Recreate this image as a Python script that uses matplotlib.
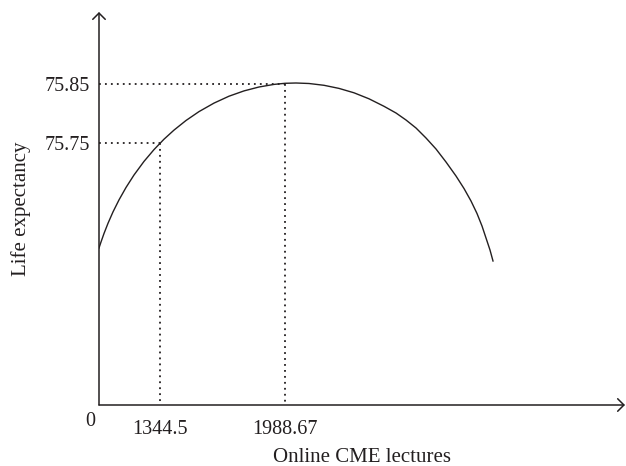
import matplotlib
matplotlib.use("Agg")
import matplotlib.pyplot as plt

# schematic curve (x, y in axis units, origin at the axes corner)
curve_x = [0, 2, 5, 9, 14, 20, 27, 35, 45, 55, 65, 75, 87, 100, 115, 130, 145, 160,
           175, 186, 197, 210, 225, 240, 255, 270, 285, 297, 307, 317, 327, 337,
           347, 357, 365, 372, 378, 383, 387, 391, 394]
curve_y = [157, 163, 171.5, 181.7, 193.1, 205.1, 217.5, 230, 243.6, 255.4, 265.8, 274.9,
           284.5, 293.4, 301.9, 308.8, 314.1, 318, 320.6, 321.7, 322, 321.5, 319.7,
           316.6, 312.2, 306.2, 298.7, 292, 285, 277, 267, 256, 243, 229, 216.5, 204,
           191.5, 179, 167, 155, 144]

# marked points on the curve
mark_x = [61, 186]
mark_y = [262, 321]
x_tick_labels = ["1344.5", "1988.67"]
y_tick_labels = ["75.75", "75.85"]

ink = "#231f20"
plt.rcParams["font.family"] = ["Liberation Serif", "DejaVu Serif"]

fig = plt.figure(figsize=(6.26, 4.66), dpi=100)
ax = fig.add_axes([99 / 626, 61 / 466, 526 / 626, 393 / 466])
ax.set_xlim(0, 526)
ax.set_ylim(0, 393)
for s in ax.spines.values():
    s.set_visible(False)

# axes with open arrow heads
arrow = dict(arrowstyle="->, head_length=0.45, head_width=0.45", lw=1.1, color=ink,
             shrinkA=0, shrinkB=0)
ax.annotate("", xy=(1, 0), xytext=(0, 0), xycoords="axes fraction",
            arrowprops=arrow, annotation_clip=False)
ax.annotate("", xy=(0, 1), xytext=(0, 0), xycoords="axes fraction",
            arrowprops=arrow, annotation_clip=False)

ax.plot(curve_x, curve_y, color=ink, lw=1.0, solid_joinstyle="round")

# dotted guides
dots = (0, (1, 2.3))
for mx, my in zip(mark_x, mark_y):
    ax.plot([0, mx], [my, my], color=ink, lw=1.3, linestyle=dots)
    ax.plot([mx, mx], [my, 0], color=ink, lw=1.3, linestyle=dots)

ax.set_xticks(mark_x, labels=x_tick_labels)
ax.set_yticks(mark_y, labels=y_tick_labels)
ax.tick_params(length=0, labelsize=14.5, colors=ink)
ax.tick_params(axis="x", pad=11)
ax.tick_params(axis="y", pad=6.5)
ax.text(-9, -16, "0", ha="center", va="center", fontsize=14.5, color=ink)

ax.set_xlabel("Online CME lectures", fontsize=15, color=ink, labelpad=6)
ax.set_ylabel("Life expectancy", fontsize=15, color=ink, labelpad=10)

fig.savefig("out.png", dpi=100)
